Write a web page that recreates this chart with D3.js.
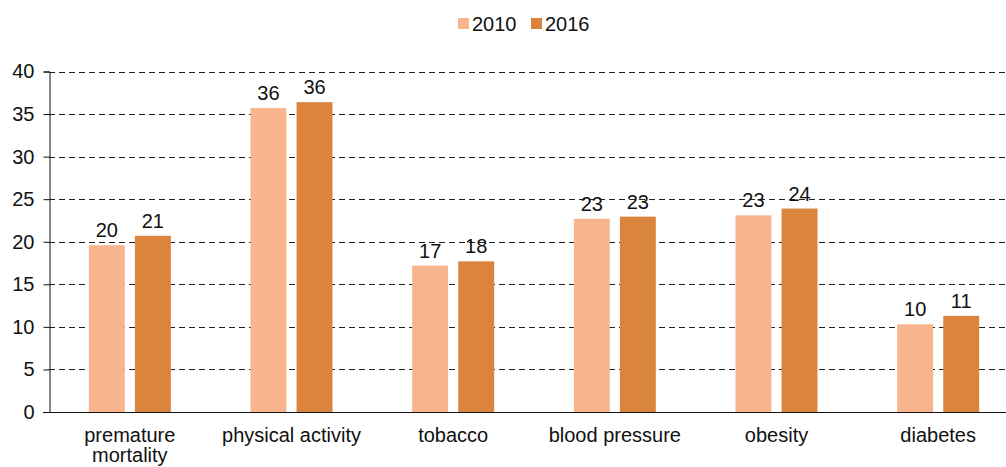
<!DOCTYPE html>
<html>
<head>
<meta charset="utf-8">
<script src="https://cdn.jsdelivr.net/npm/d3@7"></script>
<style>
  body { margin: 0; background: #fff; }
  svg text { font-family: "Liberation Sans", Arial, sans-serif; fill: #111; }
</style>
</head>
<body>
<div id="chart"></div>
<script>
// data
const categories = ["premature mortality", "physical activity", "tobacco", "blood pressure", "obesity", "diabetes"];
const years = ["2010", "2016"];
const values2010 = [19.6, 35.7, 17.2, 22.7, 23.1, 10.3];
const values2016 = [20.7, 36.4, 17.7, 22.95, 23.9, 11.3];
const yTicks = [0, 5, 10, 15, 20, 25, 30, 35, 40];

const colors = { "2010": "#F8B48D", "2016": "#DB843E" };

const w = 1006, h = 467;
const margin = { top: 71.5, left: 49, bottom: 55 };
const plotRight = 1019; // plot runs slightly past the visible edge

const series = { "2010": values2010, "2016": values2016 };
const rows = categories.map((c, i) => ({ cat: c, vals: years.map(y => ({ year: y, v: series[y][i] })) }));

const svg = d3.select("#chart").append("svg")
    .attr("width", w)
    .attr("height", h);

const y = d3.scaleLinear().domain([0, 40]).range([h - margin.bottom, margin.top]);
const x0 = d3.scaleBand().domain(categories).range([margin.left, plotRight]);
const x1 = d3.scaleBand().domain(years).range([-41, 41]).paddingInner(0.22);

// dashed gridlines
svg.append("g")
    .selectAll("line")
    .data(yTicks.filter(d => d > 0))
    .enter().append("line")
    .attr("x1", margin.left)
    .attr("x2", w)
    .attr("y1", d => Math.round(y(d)) + 0.5)
    .attr("y2", d => Math.round(y(d)) + 0.5)
    .attr("stroke", "#222")
    .attr("stroke-width", 1)
    .attr("stroke-dasharray", "6,4");

// y axis
const yAxis = svg.append("g")
    .attr("transform", "translate(" + (margin.left + 0.5) + ",0)")
    .call(d3.axisLeft(y).tickValues(yTicks).tickSize(6).tickPadding(9));
yAxis.select(".domain").attr("stroke", "#111");
yAxis.selectAll(".tick line").attr("stroke", "#111");
yAxis.selectAll(".tick text")
    .attr("font-size", "20px")
    .style("font-family", "'Liberation Sans', Arial, sans-serif")
    .attr("fill", "#111");

// bars
const groups = svg.selectAll(".grp")
    .data(rows)
    .enter().append("g")
    .attr("class", "grp")
    .attr("transform", d => "translate(" + (x0(d.cat) + x0.bandwidth() / 2) + ",0)");

groups.selectAll("rect")
    .data(d => d.vals)
    .enter().append("rect")
    .attr("x", d => x1(d.year))
    .attr("y", d => y(d.v))
    .attr("width", x1.bandwidth())
    .attr("height", d => y(0) - y(d.v))
    .attr("fill", d => colors[d.year]);

groups.selectAll(".val")
    .data(d => d.vals)
    .enter().append("text")
    .attr("class", "val")
    .attr("x", d => x1(d.year) + x1.bandwidth() / 2)
    .attr("y", d => y(d.v) - 8)
    .attr("text-anchor", "middle")
    .attr("font-size", "20px")
    .text(d => d3.format(".0f")(d.v));

// x baseline
svg.append("line")
    .attr("x1", margin.left - 6)
    .attr("x2", w)
    .attr("y1", Math.round(y(0)) + 0.5)
    .attr("y2", Math.round(y(0)) + 0.5)
    .attr("stroke", "#111");

// category labels (wrap premature / mortality)
const catLabels = svg.selectAll(".cat")
    .data(categories)
    .enter().append("text")
    .attr("class", "cat")
    .attr("text-anchor", "middle")
    .attr("font-size", "20px")
    .attr("x", d => x0(d) + x0.bandwidth() / 2)
    .attr("y", 442);

catLabels.each(function (d) {
    const t = d3.select(this);
    const lines = d === "premature mortality" ? ["premature", "mortality"] : [d];
    lines.forEach((l, i) => {
        t.append("tspan")
            .attr("x", x0(d) + x0.bandwidth() / 2)
            .attr("dy", i === 0 ? 0 : 20)
            .text(l);
    });
});

// legend
const legend = svg.append("g").attr("transform", "translate(458,0)");
const legendItems = legend.selectAll("g")
    .data(years)
    .enter().append("g")
    .attr("transform", (d, i) => "translate(" + (i * 73) + ",0)");
legendItems.append("rect")
    .attr("x", 0)
    .attr("y", 18)
    .attr("width", 11)
    .attr("height", 11)
    .attr("fill", d => colors[d]);
legendItems.append("text")
    .attr("x", 14)
    .attr("y", 31)
    .attr("font-size", "20px")
    .text(d => d);
</script>
</body>
</html>
